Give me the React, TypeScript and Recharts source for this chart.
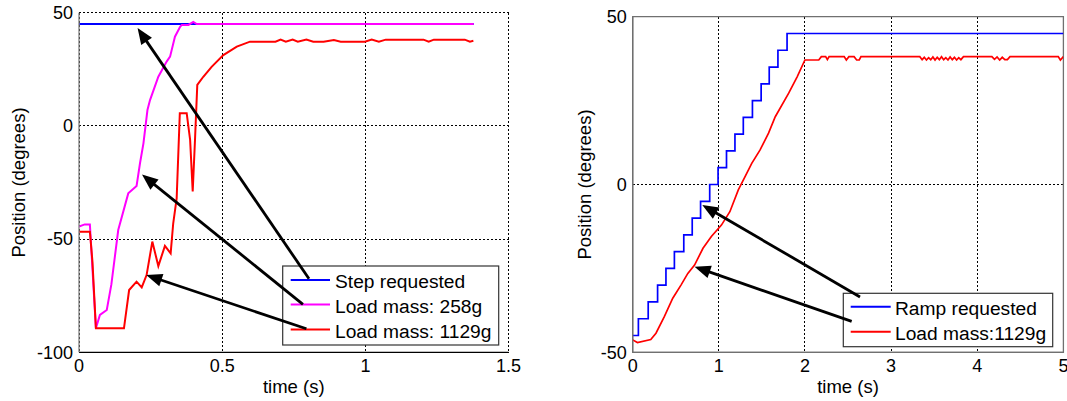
import React from 'react';
import {
  LineChart,
  Line,
  XAxis,
  YAxis,
  CartesianGrid,
  ReferenceLine,
  ReferenceArea,
  Customized,
  Label,
} from 'recharts';

const FONT = '"Liberation Sans", Arial, Helvetica, sans-serif';

// ---------- Left chart (step response) ----------
const leftXTicks = [0, 0.5, 1, 1.5];
const leftYTicks = [-100, -50, 0, 50];
const leftLegendLabels = ['Step requested', 'Load mass: 258g', 'Load mass: 1129g'];

// [time (s), position (deg)]
const stepRequested = [
  [0, 45],
  [1.378, 45],
];
const load258 = [
  [0, -44.5], [0.02, -43.5], [0.038, -43.5], [0.059, -89.4], [0.073, -83.5],
  [0.097, -81.3], [0.113, -70], [0.137, -46], [0.172, -29.8], [0.201, -26.5],
  [0.213, -16.5], [0.225, -7.7], [0.239, 7], [0.248, 11.4], [0.277, 21.7],
  [0.306, 28.4], [0.318, 30.6], [0.335, 39.4], [0.353, 43.8], [0.359, 44.6],
  [0.382, 44.6], [0.399, 45.9], [0.411, 45], [1.378, 45],
];
const load1129Step = [
  [0, -46.7], [0.038, -46.7], [0.047, -60], [0.059, -89.4], [0.157, -89.4],
  [0.175, -72.5], [0.201, -68.8], [0.219, -71.3], [0.236, -65.9], [0.256, -51.1],
  [0.277, -61.9], [0.3, -53], [0.32, -56.3], [0.329, -43], [0.341, -32],
  [0.352, 5.6], [0.376, 5.6], [0.388, -6.2], [0.397, -29], [0.405, -6.2],
  [0.413, 18.1], [0.434, 21.7], [0.463, 26.1], [0.504, 31.3], [0.551, 35],
  [0.597, 37.2], [0.686, 37.2], [0.704, 38.1], [0.722, 37.2], [0.746, 38.1],
  [0.764, 37.2], [0.794, 38.1], [0.818, 37.2], [0.854, 37.2], [0.89, 37.9],
  [0.914, 37.2], [0.998, 37.2], [1.022, 38.1], [1.047, 37.2], [1.071, 38.1],
  [1.203, 38.1], [1.221, 37.2], [1.239, 38.1], [1.347, 38.1], [1.365, 37.2],
  [1.377, 37.6],
];
// arrows: [tail time, tail pos, head time, head pos]
const leftArrows = [
  [0.803, -67.5, 0.2045, 43.2],
  [0.782, -78.8, 0.22, -21.5],
  [0.794, -89.6, 0.2346, -65.9],
];

// ---------- Right chart (ramp response) ----------
const rightXTicks = [0, 1, 2, 3, 4, 5];
const rightYTicks = [-50, 0, 50];
const rightLegendLabels = ['Ramp requested', 'Load mass:1129g'];

const rampRequested = [
  [0, -45], [0.066, -40], [0.18, -35], [0.289, -30], [0.386, -25], [0.484, -20],
  [0.593, -15], [0.691, -10], [0.788, -5], [0.894, 0], [0.991, 5], [1.089, 10],
  [1.187, 15], [1.284, 20], [1.39, 25], [1.491, 30], [1.585, 35], [1.686, 40],
  [1.792, 45], [5, 45],
];
const load1129Ramp = [
  [0, -46.3], [0.055, -47.1], [0.21, -46.2], [0.27, -44.3], [0.367, -39.4],
  [0.465, -33.9], [0.562, -29.9], [0.64, -26.5], [0.718, -24], [0.816, -19],
  [0.913, -15.5], [1.03, -12.1], [1.128, -8.1], [1.226, -1.6], [1.303, 2.3],
  [1.382, 6.3], [1.479, 10.3], [1.577, 15.3], [1.655, 20.2], [1.811, 27.2],
  [1.909, 32.1], [1.999, 37.1], [2.16, 37.1], [2.19, 38.1], [2.24, 38.1],
  [2.26, 37.2], [2.28, 38.1], [2.455, 38.1], [2.48, 37.1], [2.51, 38.1],
  [2.57, 38.1], [2.6, 37.1], [2.63, 37.1], [2.65, 38.1], [3.333, 38.1],
  [3.36, 37.2], [3.385, 37.9], [3.41, 37.1], [3.435, 37.8], [3.46, 37.2],
  [3.485, 38], [3.51, 37.1], [3.535, 37.9], [3.56, 37.2], [3.585, 38.1],
  [3.61, 37.2], [3.635, 37.8], [3.66, 37.1], [3.685, 38], [3.71, 37.2],
  [3.735, 37.9], [3.76, 37.1], [3.785, 37.8], [3.81, 37.2], [3.84, 38.1],
  [4.17, 38.1], [4.2, 37.3], [4.23, 38], [4.26, 37.1], [4.29, 37.9],
  [4.32, 37.2], [4.35, 37.2], [4.38, 38.1], [4.94, 38.1], [4.965, 37.1],
  [5, 38.1],
];
const rightArrows = [
  [2.639, -33.5, 0.808, -6.1],
  [2.542, -40.8, 0.718, -24.5],
];

const toRows = (pairs: number[][]) => pairs.map(([t, v]) => ({ t, v }));

const tickStyle = { fill: '#000', fontSize: 18, fontFamily: FONT };

const Arrow = (props: any) => {
  const { x1, y1, x2, y2 } = props;
  const dx = x2 - x1;
  const dy = y2 - y1;
  const len = Math.hypot(dx, dy) || 1;
  const ux = dx / len;
  const uy = dy / len;
  const hl = 16;
  const hw = 6.5;
  const bx = x2 - ux * hl;
  const by = y2 - uy * hl;
  const px = -uy;
  const py = ux;
  return (
    <g>
      <line x1={x1} y1={y1} x2={bx + ux * 2} y2={by + uy * 2} stroke="#000" strokeWidth={2.8} />
      <polygon
        points={`${x2},${y2} ${bx + px * hw},${by + py * hw} ${bx - px * hw},${by - py * hw}`}
        fill="#000"
      />
    </g>
  );
};

type LegendProps = {
  x: number;
  y: number;
  w: number;
  h: number;
  rowYs: number[];
  colors: string[];
  labels: string[];
  lineX1: number;
  lineX2: number;
  textX: number;
};

const LegendBox = ({ x, y, w, h, rowYs, colors, labels, lineX1, lineX2, textX }: LegendProps) => (
  <g>
    <rect x={x} y={y} width={w} height={h} fill="#fff" stroke="#333" strokeWidth={1.2} />
    {labels.map((lab, i) => (
      <g key={lab}>
        <line x1={lineX1} x2={lineX2} y1={rowYs[i]} y2={rowYs[i]} stroke={colors[i]} strokeWidth={2} />
        <text x={textX} y={rowYs[i] + 8} fontSize={19.2} fontFamily={FONT} fill="#000">
          {lab}
        </text>
      </g>
    ))}
  </g>
);

const LeftChart = () => (
  <LineChart
    width={540}
    height={401}
    margin={{ top: 12.7, right: 31.4, bottom: 8, left: 0 }}
  >
    <CartesianGrid stroke="#000" strokeDasharray="2 2" strokeWidth={1} shapeRendering="crispEdges" />
    <XAxis
      dataKey="t"
      type="number"
      domain={[0, 1.5]}
      ticks={leftXTicks}
      interval={0}
      height={40.7}
      tickLine={false}
      tickSize={6}
      tickMargin={1}
      tick={tickStyle}
      axisLine={{ stroke: '#000', strokeWidth: 1.3 }}
      allowDataOverflow
    >
      <Label value="time (s)" position="insideBottom" offset={0} fill="#000" fontSize={18.5} fontFamily={FONT} />
    </XAxis>
    <YAxis
      dataKey="v"
      type="number"
      domain={[-100, 50]}
      ticks={leftYTicks}
      interval={0}
      width={79}
      tickLine={false}
      tickSize={6}
      tickMargin={0}
      tick={tickStyle}
      axisLine={{ stroke: '#808080', strokeWidth: 1.3 }}
      allowDataOverflow
    >
      <Label
        value="Position (degrees)"
        angle={-90}
        position="insideLeft"
        offset={18}
        fill="#000"
        fontSize={18.5}
        fontFamily={FONT}
        style={{ textAnchor: 'middle' }}
      />
    </YAxis>
    <Line data={toRows(stepRequested)} dataKey="v" stroke="#0000ff" strokeWidth={2} dot={false} isAnimationActive={false} />
    <Line data={toRows(load258)} dataKey="v" stroke="#ff00ff" strokeWidth={2} dot={false} isAnimationActive={false} />
    <Line data={toRows(load1129Step)} dataKey="v" stroke="#ff0000" strokeWidth={2} dot={false} isAnimationActive={false} />
    <Customized
      component={() => (
        <LegendBox
          x={282.7}
          y={266}
          w={216}
          h={79}
          rowYs={[280, 304.5, 329.5]}
          colors={['#0000ff', '#ff00ff', '#ff0000']}
          labels={leftLegendLabels}
          lineX1={290.7}
          lineX2={330}
          textX={335}
        />
      )}
    />
    {leftArrows.map((a, i) => (
      <ReferenceLine
        key={`la${i}`}
        segment={[
          { x: a[0], y: a[1] },
          { x: a[2], y: a[3] },
        ]}
        shape={Arrow}
        ifOverflow="visible"
      />
    ))}
  </LineChart>
);

const RightChart = () => (
  <LineChart
    width={527}
    height={401}
    margin={{ top: 16.7, right: 3.6, bottom: 8, left: 0 }}
  >
    <CartesianGrid stroke="#000" strokeDasharray="2 2" strokeWidth={1} shapeRendering="crispEdges" />
    <ReferenceArea x1={0} x2={5} y1={-50} y2={50} fill="none" stroke="#707070" strokeWidth={1.3} ifOverflow="visible" />
    <XAxis
      dataKey="t"
      type="number"
      domain={[0, 5]}
      ticks={rightXTicks}
      interval={0}
      height={40.7}
      tickLine={false}
      tickSize={6}
      tickMargin={1}
      tick={tickStyle}
      axisLine={{ stroke: '#707070', strokeWidth: 1.3 }}
      allowDataOverflow
    >
      <Label value="time (s)" position="insideBottom" offset={0} fill="#000" fontSize={18.5} fontFamily={FONT} />
    </XAxis>
    <YAxis
      dataKey="v"
      type="number"
      domain={[-50, 50]}
      ticks={rightYTicks}
      interval={0}
      width={92.7}
      tickLine={false}
      tickSize={6}
      tickMargin={0}
      tick={tickStyle}
      axisLine={{ stroke: '#707070', strokeWidth: 1.3 }}
      allowDataOverflow
    >
      <Label
        value="Position (degrees)"
        angle={-90}
        position="insideLeft"
        offset={44}
        fill="#000"
        fontSize={18.5}
        fontFamily={FONT}
        style={{ textAnchor: 'middle' }}
      />
    </YAxis>
    <Line data={toRows(rampRequested)} type="stepAfter" dataKey="v" stroke="#0000ff" strokeWidth={1.7} dot={false} isAnimationActive={false} />
    <Line data={toRows(load1129Ramp)} dataKey="v" stroke="#ff0000" strokeWidth={1.7} dot={false} isAnimationActive={false} />
    <Customized
      component={() => (
        <LegendBox
          x={303.3}
          y={293.3}
          w={209.4}
          h={53.4}
          rowYs={[306.7, 331.7]}
          colors={['#0000ff', '#ff0000']}
          labels={rightLegendLabels}
          lineX1={310.7}
          lineX2={350.7}
          textX={355}
        />
      )}
    />
    {rightArrows.map((a, i) => (
      <ReferenceLine
        key={`ra${i}`}
        segment={[
          { x: a[0], y: a[1] },
          { x: a[2], y: a[3] },
        ]}
        shape={Arrow}
        ifOverflow="visible"
      />
    ))}
  </LineChart>
);

export default function App() {
  return (
    <div
      style={{
        position: 'absolute',
        left: 0,
        top: 0,
        width: 1067,
        height: 401,
        background: '#fff',
        fontFamily: FONT,
      }}
    >
      <div style={{ position: 'absolute', left: 0, top: 0 }}>
        <LeftChart />
      </div>
      <div style={{ position: 'absolute', left: 540, top: 0 }}>
        <RightChart />
      </div>
    </div>
  );
}
